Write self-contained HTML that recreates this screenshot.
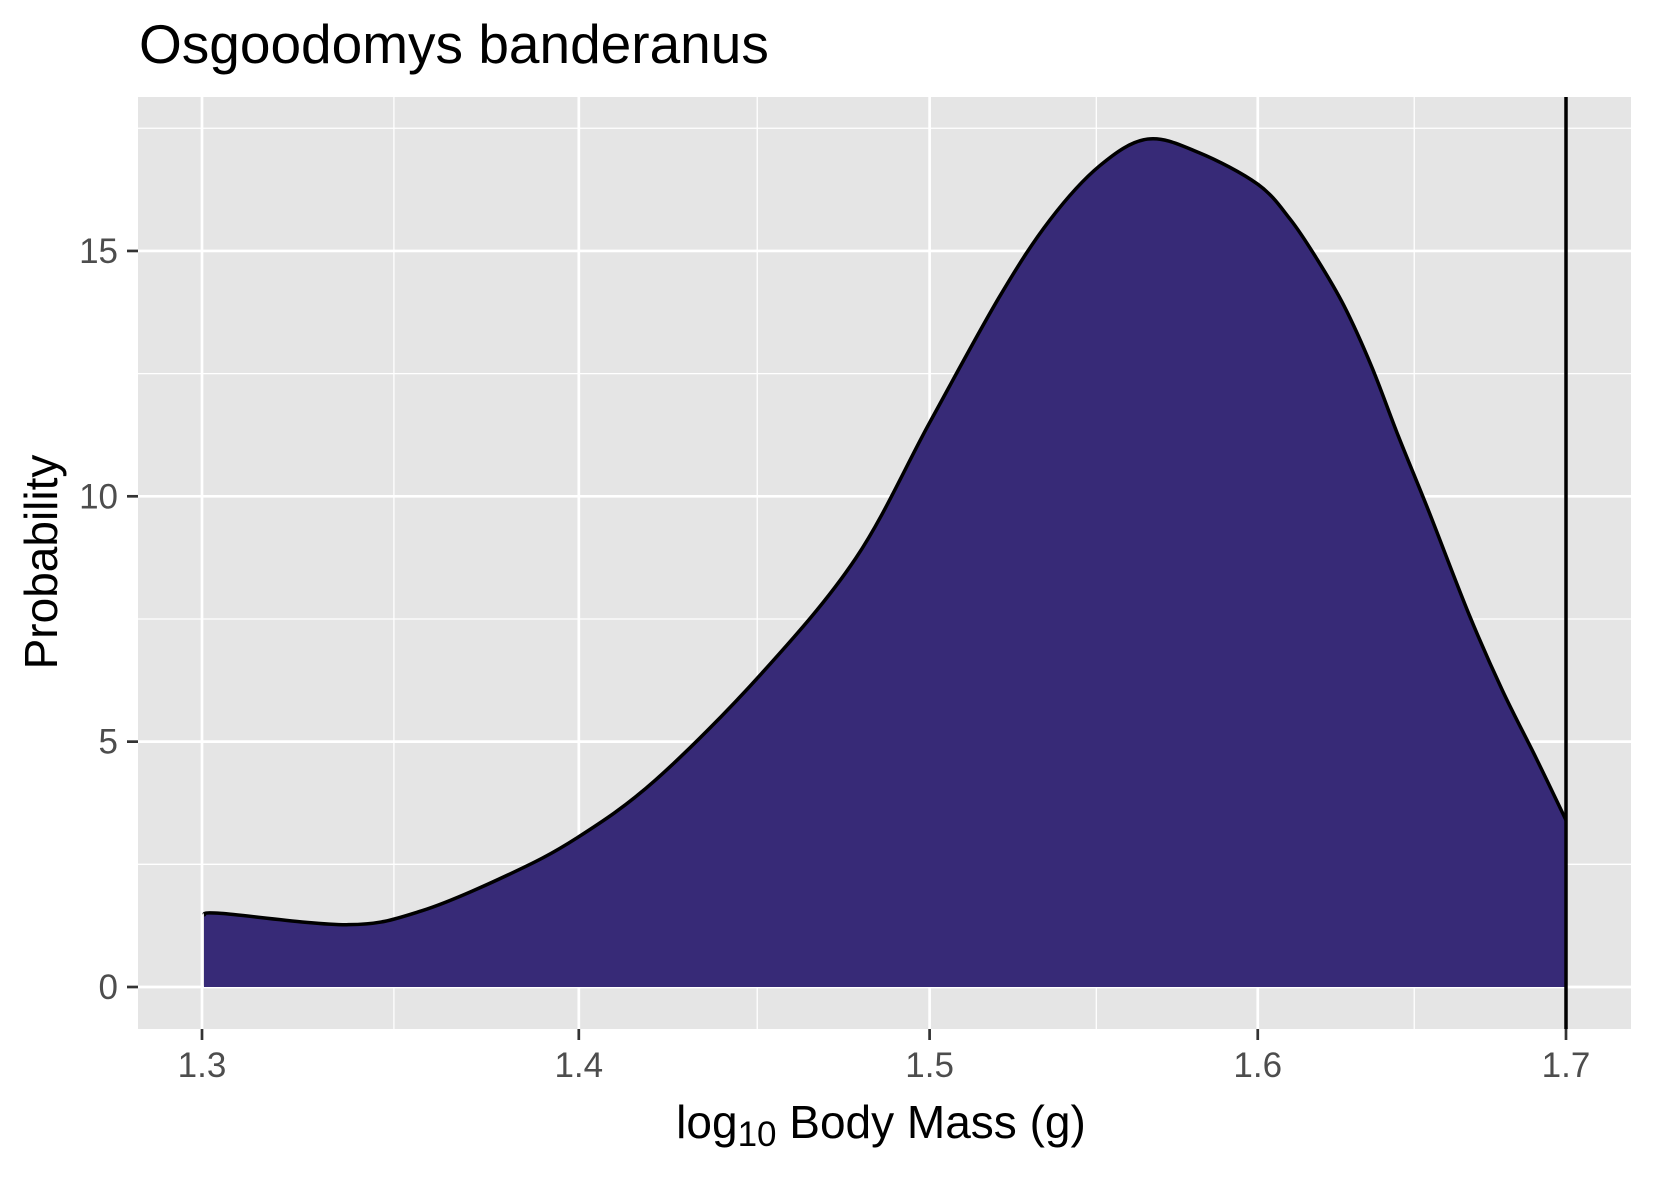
<!DOCTYPE html>
<html><head><meta charset="utf-8">
<style>
body{margin:0;background:#fff;}
svg text{font-family:"Liberation Sans",Arial,sans-serif;}
</style></head>
<body>
<svg id="chart" width="1653" height="1181" viewBox="0 0 1653 1181" xmlns="http://www.w3.org/2000/svg">
<rect width="1653" height="1181" fill="#fff"/>
<text x="139" y="63" font-size="55" fill="#000">Osgoodomys banderanus</text>
<rect x="138" y="97" width="1493" height="932" fill="#e5e5e5"/>
<g id="grid"></g>
<path id="area" fill="#372a77" stroke="none"/>
<path id="curve" fill="none" stroke="#000" stroke-width="3.5"/>
<line id="vline" stroke="#000" stroke-width="3.5"/>
<g id="axes"></g>
<text x="881" y="1138" font-size="46" text-anchor="middle" fill="#000">log<tspan font-size="35" dy="8">10</tspan><tspan dy="-8"> Body Mass (g)</tspan></text>
<text transform="translate(57,562) rotate(-90)" font-size="46" text-anchor="middle" fill="#000">Probability</text>
</svg>
<script>
const xs = [1.3005,1.3049,1.3380,1.3573,1.3805,1.3993,1.4213,1.4510,1.4784,1.5000,1.5207,1.5359,1.5511,1.5657,1.5814,1.6000,1.6102,1.6188,1.6274,1.6362,1.6449,1.6547,1.6679,1.6789,1.6900,1.7000];
const ys = [1.47,1.50,1.27,1.55,2.28,3.03,4.22,6.37,8.74,11.50,14.06,15.63,16.74,17.28,17.01,16.36,15.65,14.83,13.88,12.65,11.22,9.70,7.59,6.04,4.67,3.40];
const xTicks = [1.3,1.4,1.5,1.6,1.7];
const xMinor = [1.35,1.45,1.55,1.65];
const yTicks = [0,5,10,15];
const yMinor = [2.5,7.5,12.5,17.5];
const obsValue = 1.7;

const px0=138,px1=1631,py0=97,py1=1029;
const L0=Math.log10(1.3), K=1364/(Math.log10(1.7)-Math.log10(1.3));
const X=v=>202+(Math.log10(v)-L0)*K;
const Y=v=>987-v*49.07;
const ns="http://www.w3.org/2000/svg";
function mk(tag,attrs,parent){const e=document.createElementNS(ns,tag);for(const k in attrs)e.setAttribute(k,attrs[k]);parent.appendChild(e);return e;}
const grid=document.getElementById('grid'), axes=document.getElementById('axes');
yMinor.forEach(v=>{const l=mk('line',{x1:px0,x2:px1,y1:Y(v),y2:Y(v),stroke:'#fff','stroke-width':1.3},grid);

});
xMinor.forEach(v=>{const l=mk('line',{x1:X(v),x2:X(v),y1:py0,y2:py1,stroke:'#fff','stroke-width':1.3},grid);

});
yTicks.forEach(v=>{const l=mk('line',{x1:px0,x2:px1,y1:Y(v),y2:Y(v),stroke:'#fff','stroke-width':2.7},grid);


const t=mk('line',{x1:px0-11,x2:px0,y1:Y(v),y2:Y(v),stroke:'#333','stroke-width':2.7},axes);


const tx=mk('text',{x:px0-20,y:Y(v)+12,'font-size':35,'text-anchor':'end',fill:'#4d4d4d'},axes);


tx.textContent=String(v);});
xTicks.forEach(v=>{const l=mk('line',{x1:X(v),x2:X(v),y1:py0,y2:py1,stroke:'#fff','stroke-width':2.7},grid);


const t=mk('line',{x1:X(v),x2:X(v),y1:py1,y2:py1+11,stroke:'#333','stroke-width':2.7},axes);


const tx=mk('text',{x:X(v),y:py1+48,'font-size':35,'text-anchor':'middle',fill:'#4d4d4d'},axes);


tx.textContent=v.toFixed(1);});
const pts=xs.map((x,i)=>[X(x),Y(ys[i])]);
let d='M'+pts[0][0]+','+pts[0][1];
for(let i=0;i<pts.length-1;i++){const p0=pts[i-1]||pts[i],p1=pts[i],p2=pts[i+1],p3=pts[i+2]||p2;
d+=` C${p1[0]+(p2[0]-p0[0])/6},${p1[1]+(p2[1]-p0[1])/6} ${p2[0]-(p3[0]-p1[0])/6},${p2[1]-(p3[1]-p1[1])/6} ${p2[0]},${p2[1]}`;}
document.getElementById('curve').setAttribute('d',d);
document.getElementById('area').setAttribute('d',d+` L${pts[pts.length-1][0]},${Y(0)} L${pts[0][0]},${Y(0)} Z`);
const vl=document.getElementById('vline');
vl.setAttribute('x1',X(obsValue));vl.setAttribute('x2',X(obsValue));vl.setAttribute('y1',py0);vl.setAttribute('y2',py1);
</script>
</body></html>
